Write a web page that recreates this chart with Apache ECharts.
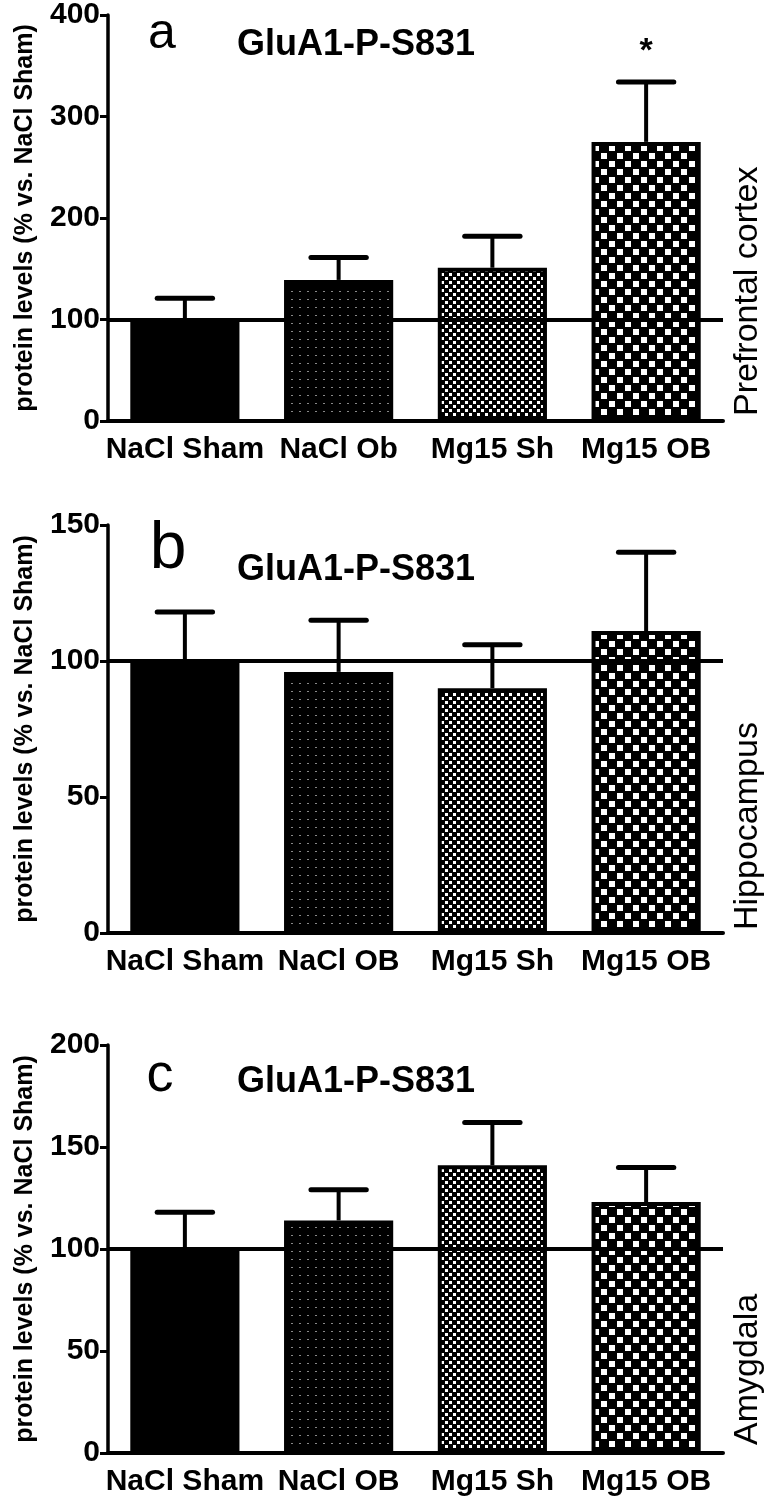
<!DOCTYPE html>
<html>
<head>
<meta charset="utf-8">
<script src="https://cdn.jsdelivr.net/npm/echarts@6/dist/echarts.min.js"></script>
<style>
  html, body { margin: 0; padding: 0; background: #fff; }
  #chart { width: 767px; height: 1500px; }
</style>
</head>
<body>
<div id="chart"></div>
<script>
const groupsA = ["NaCl Sham", "NaCl Ob", "Mg15 Sh", "Mg15 OB"];
const groupsB = ["NaCl Sham", "NaCl OB", "Mg15 Sh", "Mg15 OB"];
const groupsC = ["NaCl Sham", "NaCl OB", "Mg15 Sh", "Mg15 OB"];

// prefrontal cortex
const meanA = [100, 139, 151, 275];
const errTopA = [121, 161, 182, 334];
const starsA = ["", "", "", "*"];
// hippocampus
const meanB = [100, 96, 90, 111];
const errTopB = [118, 115, 106, 140];
const starsB = ["", "", "", ""];
// amygdala
const meanC = [100, 114, 141, 123];
const errTopC = [118, 129, 162, 140];
const starsC = ["", "", "", ""];

const yTicksA = [0, 100, 200, 300, 400];
const yTicksB = [0, 50, 100, 150];
const yTicksC = [0, 50, 100, 150, 200];

const letters = ["a", "b", "c"];
const regions = ["Prefrontal cortex", "Hippocampus", "Amygdala"];
const panelTitle = "GluA1-P-S831";
const yName = "protein levels (% vs. NaCl Sham)";
const baseline = 100;

const FONT = "'Liberation Sans', Arial, Helvetica, sans-serif";

// bar fill patterns
function tile(w, h, draw) {
  const c = document.createElement("canvas");
  c.width = w;
  c.height = h;
  const ctx = c.getContext("2d");
  ctx.fillStyle = "#000";
  ctx.fillRect(0, 0, w, h);
  ctx.fillStyle = "#fff";
  draw(ctx);
  return { image: c, repeat: "repeat" };
}
const fills = [
  "#000",
  tile(8, 8, (ctx) => {
    ctx.fillStyle = "#888";
    ctx.fillRect(3, 3, 2, 1);
  }),
  tile(8, 8, (ctx) => {
    ctx.fillRect(1, 1, 3, 3);
    ctx.fillRect(5, 5, 3, 3);
  }),
  tile(16, 16, (ctx) => {
    ctx.fillRect(1, 1, 6, 6);
    ctx.fillRect(9, 9, 6, 6);
  }),
];

const panels = [
  { groups: groupsA, mean: meanA, errTop: errTopA, stars: starsA, ticks: yTicksA },
  { groups: groupsB, mean: meanB, errTop: errTopB, stars: starsB, ticks: yTicksB },
  { groups: groupsC, mean: meanC, errTop: errTopC, stars: starsC, ticks: yTicksC },
];

const gridTops = [13, 525, 1045];
const gridHeight = 408;

function errorBars(stars) {
  return function (params, api) {
    const i = api.value(0);
    const base = api.coord([i, api.value(1)]);
    const tip = api.coord([i, api.value(2)]);
    const half = api.size([1, 0])[0] * 0.18;
    const children = [
      {
        type: "line",
        shape: { x1: base[0], y1: base[1], x2: tip[0], y2: tip[1] },
        style: { stroke: "#000", lineWidth: 4 },
      },
      {
        type: "line",
        shape: { x1: tip[0] - half, y1: tip[1], x2: tip[0] + half, y2: tip[1] },
        style: { stroke: "#000", lineWidth: 5, lineCap: "round" },
      },
    ];
    if (stars[params.dataIndex]) {
      children.push({
        type: "text",
        x: tip[0],
        y: tip[1] - 30,
        style: {
          text: stars[params.dataIndex],
          fill: "#000",
          fontSize: 34,
          fontWeight: "bold",
          fontFamily: FONT,
          align: "center",
          verticalAlign: "middle",
        },
      });
    }
    return { type: "group", children: children };
  };
}

const grid = [];
const xAxis = [];
const yAxis = [];
const series = [];
const graphic = [];

panels.forEach((p, k) => {
  grid.push({ left: 108, right: 44, top: gridTops[k], height: gridHeight });
  xAxis.push({
    type: "category",
    gridIndex: k,
    data: p.groups,
    axisLine: { lineStyle: { color: "#000", width: 4 } },
    axisTick: { alignWithLabel: true, length: 12, lineStyle: { color: "#000", width: 4 } },
    axisLabel: {
      interval: 0, hideOverlap: false,
      color: "#000", fontSize: 30, fontWeight: "bold", fontFamily: FONT, margin: 14,
    },
  });
  yAxis.push({
    type: "value",
    gridIndex: k,
    min: p.ticks[0],
    max: p.ticks[p.ticks.length - 1],
    interval: p.ticks[1] - p.ticks[0],
    splitLine: { show: false },
    axisLine: { show: true, lineStyle: { color: "#000", width: 3.5 } },
    axisTick: { show: true, length: 8, lineStyle: { color: "#000", width: 3 } },
    axisLabel: { color: "#000", fontSize: 30, fontWeight: "bold", fontFamily: FONT, margin: 8 },
    name: yName,
    nameLocation: "middle",
    nameGap: 70,
    nameTextStyle: { color: "#000", fontSize: 25, fontWeight: "bold", fontFamily: FONT },
  });
  series.push({
    type: "bar",
    xAxisIndex: k,
    yAxisIndex: k,
    barCategoryGap: "29%",
    data: p.mean.map((v, j) => ({ value: v, itemStyle: { color: fills[j] } })),
    itemStyle: { borderColor: "#000", borderWidth: 4 },
    markLine: {
      silent: true,
      symbol: ["none", "none"],
      label: { show: false },
      lineStyle: { color: "#000", width: 4, type: "solid" },
      data: [{ yAxis: baseline }],
    },
  });
  series.push({
    type: "custom",
    xAxisIndex: k,
    yAxisIndex: k,
    renderItem: errorBars(p.stars),
    encode: { x: 0, y: [1, 2] },
    data: p.mean.map((v, j) => [j, v, p.errTop[j]]),
    z: 5,
  });
});

// panel letters, titles and region labels
const letterPos = [[162, 34, 50], [168, 550, 66], [160, 1076, 54]];
const titleY = [45, 570, 1082];
const regionBottom = [416, 930, 1445];
panels.forEach((p, k) => {
  graphic.push({
    type: "text",
    x: letterPos[k][0],
    y: letterPos[k][1],
    style: {
      text: letters[k], fill: "#000", fontSize: letterPos[k][2], fontFamily: FONT,
      align: "center", verticalAlign: "middle",
    },
  });
  graphic.push({
    type: "text",
    x: 356,
    y: titleY[k],
    style: {
      text: panelTitle, fill: "#000", fontSize: 36, fontWeight: "bold", fontFamily: FONT,
      align: "center", verticalAlign: "middle",
    },
  });
  graphic.push({
    type: "text",
    x: 748,
    y: regionBottom[k],
    rotation: Math.PI / 2,
    style: {
      text: regions[k], fill: "#000", fontSize: 34, fontFamily: FONT,
      align: "left", verticalAlign: "middle",
    },
  });
});

const chart = echarts.init(document.getElementById("chart"));
chart.setOption({
  animation: false,
  backgroundColor: "#fff",
  grid: grid,
  xAxis: xAxis,
  yAxis: yAxis,
  series: series,
  graphic: graphic,
});
</script>
</body>
</html>
